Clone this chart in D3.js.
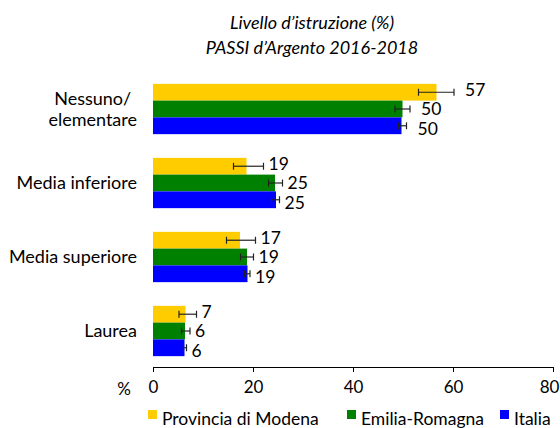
<!DOCTYPE html>
<html>
<head>
<meta charset="utf-8">
<script src="https://cdn.jsdelivr.net/npm/d3@7"></script>
<style>
  body { margin: 0; background: #fff; }
  svg { font-family: Lato, "Liberation Sans", sans-serif; }
</style>
</head>
<body>
<div id="chart"></div>
<script>
// data
var categories = ["Nessuno/\nelementare", "Media inferiore", "Media superiore", "Laurea"];
var seriesNames = ["Provincia di Modena", "Emilia-Romagna", "Italia"];
var colors = ["#FFCC00", "#008000", "#0000FF"];
var modena = [56.7, 18.7, 17.4, 6.5];
var emilia = [49.9, 24.4, 18.8, 6.4];
var italia = [49.7, 24.6, 18.9, 6.3];
var modenaLo = [53.1, 16.1, 14.7, 5.2];
var modenaHi = [60.2, 22.1, 20.5, 8.7];
var emiliaLo = [48.4, 23.1, 17.5, 5.7];
var emiliaHi = [51.4, 25.9, 20.1, 7.4];
var italiaLo = [49.1, 23.7, 18.3, 6.1];
var italiaHi = [50.7, 25.3, 19.4, 6.7];
var labels = [[57, 19, 17, 7], [50, 25, 19, 6], [50, 25, 19, 6]];
var xTicks = [0, 20, 40, 60, 80];

var w = 560, h = 428;
var svg = d3.select("#chart").append("svg")
  .attr("width", w).attr("height", h);

var values = [modena, emilia, italia];
var lows = [modenaLo, emiliaLo, italiaLo];
var highs = [modenaHi, emiliaHi, italiaHi];

var x = d3.scaleLinear().domain([0, 80]).range([153, 553]);
var y = d3.scaleBand().domain(d3.range(categories.length)).range([72, 368]).paddingInner(0.32).paddingOuter(0.16);
var yInner = d3.scaleBand().domain(d3.range(3)).range([0, y.bandwidth()]);

// title
svg.append("text").attr("x", 312).attr("y", 29).attr("text-anchor", "middle")
  .style("font-size", "18px").style("font-style", "italic").text("Livello d\u2019istruzione (%)");
svg.append("text").attr("x", 312).attr("y", 54).attr("text-anchor", "middle")
  .style("font-size", "18px").style("font-style", "italic").text("PASSI d\u2019Argento 2016-2018");

// bars
var groups = svg.selectAll("g.grp").data(categories).enter().append("g")
  .attr("class", "grp")
  .attr("transform", function(d, i) { return "translate(0," + y(i) + ")"; });

groups.each(function(cat, ci) {
  var g = d3.select(this);
  for (var s = 0; s < 3; s++) {
    var by = yInner(s), bh = yInner.bandwidth();
    g.append("rect")
      .attr("x", x(0)).attr("y", by)
      .attr("width", x(values[s][ci]) - x(0)).attr("height", bh)
      .attr("fill", colors[s]);
    var cy = by + bh / 2;
    var lo = x(lows[s][ci]), hi = x(highs[s][ci]);
    g.append("line").attr("x1", lo).attr("x2", hi).attr("y1", cy).attr("y2", cy)
      .attr("stroke", "#222").attr("stroke-width", 1.2);
    g.append("line").attr("x1", lo).attr("x2", lo).attr("y1", cy - 3.5).attr("y2", cy + 3.5)
      .attr("stroke", "#222").attr("stroke-width", 1.2);
    g.append("line").attr("x1", hi).attr("x2", hi).attr("y1", cy - 3.5).attr("y2", cy + 3.5)
      .attr("stroke", "#222").attr("stroke-width", 1.2);
    var dy = s === 0 ? -2 : (s === 2 ? 3 : 0);
    g.append("text")
      .attr("x", hi + (ci === 0 ? 11 : 5)).attr("y", cy + dy)
      .attr("dy", "0.35em")
      .style("font-size", "17.5px").attr("fill", "#000")
      .text(labels[s][ci]);
  }
});

// category labels
svg.selectAll("text.cat").data(categories).enter().append("text")
  .attr("class", "cat")
  .style("font-size", "18px")
  .each(function(d, i) {
    var t = d3.select(this);
    var lines = d.split("\n");
    var cy = y(i) + y.bandwidth() / 2;
    lines.forEach(function(l, k) {
      t.append("tspan").attr("y", cy + (k - (lines.length - 1) / 2) * 21).attr("dy", "0.35em").text(l);
    });
    if (lines.length > 1) {
      var maxW = 0;
      t.selectAll("tspan").each(function() { maxW = Math.max(maxW, this.getComputedTextLength()); });
      t.attr("text-anchor", "middle");
      t.selectAll("tspan").attr("x", 137 - maxW / 2);
    } else {
      t.attr("text-anchor", "end");
      t.selectAll("tspan").attr("x", 137);
    }
  });

// x axis
var axis = svg.append("g").attr("transform", "translate(0,367)")
  .call(d3.axisBottom(x).tickValues(xTicks).tickSize(5).tickPadding(9));
axis.select(".domain").attr("stroke", "#000").attr("d", "M" + x(0) + ",0.5H" + x(80));
axis.selectAll(".tick line").attr("stroke", "#000");
axis.selectAll("text").style("font-size", "17px").style("font-family", "Lato, sans-serif").attr("fill", "#000");
axis.selectAll(".tick").filter(function(d) { return d === 80; }).select("text").attr("x", -4);
svg.append("text").attr("x", 124).attr("y", 389).attr("dy", "0.35em").attr("text-anchor", "middle")
  .style("font-size", "17px").text("%");

// legend
var legendX = [148, 347, 500];
var leg = svg.selectAll("g.leg").data(seriesNames).enter().append("g")
  .attr("class", "leg")
  .attr("transform", function(d, i) { return "translate(" + legendX[i] + ",425)"; });
leg.append("rect").attr("x", 0).attr("y", -15).attr("width", 9).attr("height", 9)
  .attr("fill", function(d, i) { return colors[i]; });
leg.append("text").attr("x", 14).attr("y", 0)
  .style("font-size", "17.5px").text(function(d) { return d; });
</script>
</body>
</html>
